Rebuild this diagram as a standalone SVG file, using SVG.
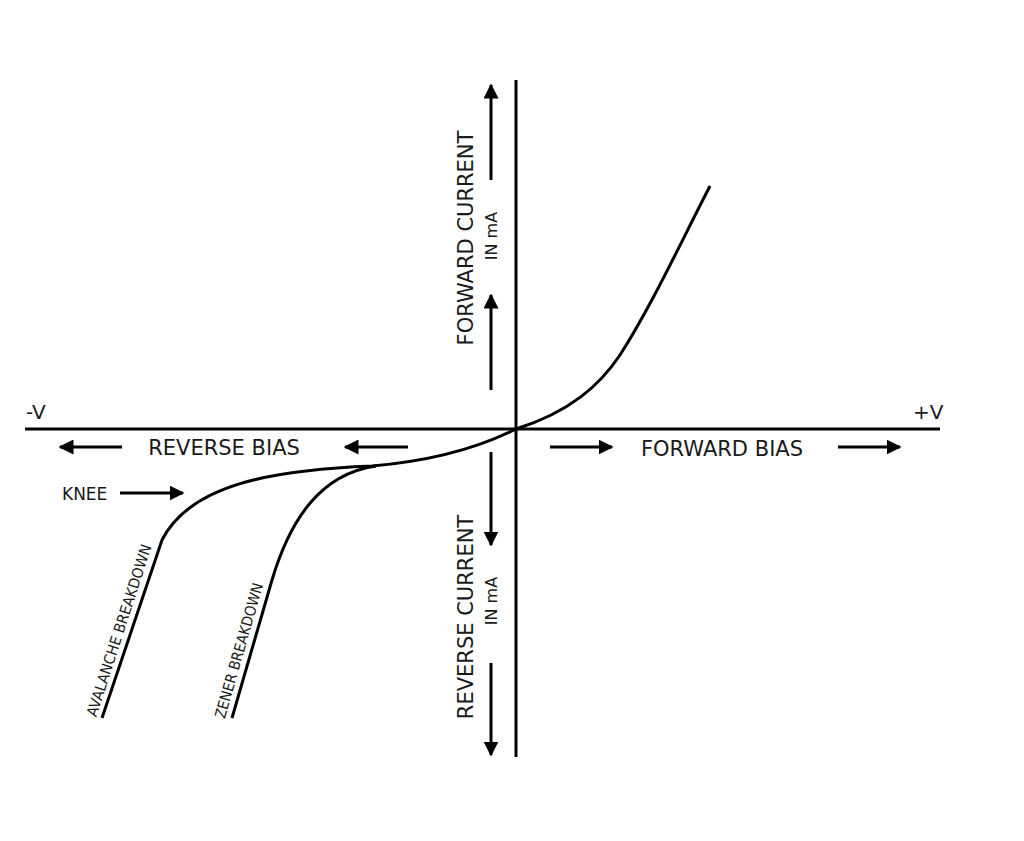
<svg xmlns="http://www.w3.org/2000/svg" width="1024" height="841" viewBox="0 0 1024 841">
<defs>
<marker id="ah" viewBox="0 0 10 10" refX="9" refY="5" markerWidth="5" markerHeight="5" orient="auto"><path d="M0,0 L10,5 L0,10 z" fill="#000"/></marker>
<style>
.t{font-family:"DejaVu Sans","Liberation Sans",sans-serif;fill:#1a1a1a}
.a{stroke:#000;stroke-width:3;fill:none;marker-end:url(#ah)}
.c{stroke:#000;stroke-width:3;fill:none}
</style>
</defs>
<rect width="1024" height="841" fill="#fff"/>
<g id="axes">
<line x1="25" y1="429" x2="940" y2="429" stroke="#000" stroke-width="3"/>
<line x1="516" y1="80" x2="516" y2="757" stroke="#000" stroke-width="3"/>
<text class="t" x="26" y="419" font-size="20">-V</text>
<text class="t" x="913" y="419" font-size="20">+V</text>
</g>
<g id="curves">
<path class="c" d="M516,429 C570,412 600,385 620,355 C652,305 682,240 710,186"/>
<path class="c" d="M516,429 C470,452 420,462 372,466 C270,470 190,485 162,540 L102,718"/>
<path class="c" d="M376,466 C320,474 290,520 272,580 L232,718"/>
</g>
<g id="connectors">
<path class="a" d="M491,180 V85"/>
<path class="a" d="M491,390 V295"/>
<path class="a" d="M491,452 V545"/>
<path class="a" d="M491,663 V755"/>
<path class="a" d="M122,447 H60"/>
<path class="a" d="M408,447 H345"/>
<path class="a" d="M550,447 H612"/>
<path class="a" d="M838,447 H900"/>
<path class="a" d="M120,493 H183"/>
</g>
<g id="labels">
<text class="t" x="224" y="455" font-size="21" text-anchor="middle">REVERSE BIAS</text>
<text class="t" x="722" y="456" font-size="21" text-anchor="middle">FORWARD BIAS</text>
<text class="t" x="62" y="500" font-size="17">KNEE</text>
<text class="t" font-size="21" text-anchor="middle" transform="translate(473,238) rotate(-90)">FORWARD CURRENT</text>
<text class="t" font-size="16" text-anchor="middle" transform="translate(497,236) rotate(-90)">IN mA</text>
<text class="t" font-size="21" text-anchor="middle" transform="translate(473,617) rotate(-90)">REVERSE CURRENT</text>
<text class="t" font-size="16" text-anchor="middle" transform="translate(497,601) rotate(-90)">IN mA</text>
<text class="t" font-size="15" text-anchor="middle" textLength="180" lengthAdjust="spacingAndGlyphs" transform="translate(124,632) rotate(-72)">AVALANCHE  BREAKDOWN</text>
<text class="t" font-size="15" text-anchor="middle" textLength="140" lengthAdjust="spacingAndGlyphs" transform="translate(244,652) rotate(-74)">ZENER  BREAKDOWN</text>
</g>
</svg>
